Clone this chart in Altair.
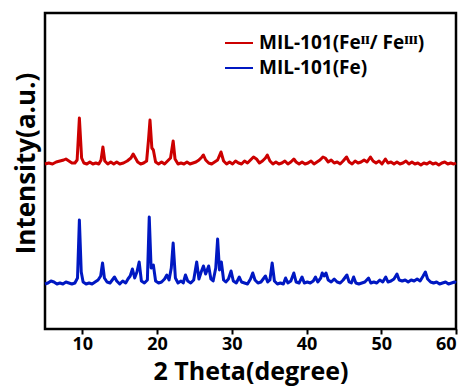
import altair as alt
import pandas as pd

# 2-theta positions and intensities (a.u., offset stacked)
red_theta = [5.0, 5.5, 6.0, 6.5, 7.0, 7.5, 7.8, 8.2, 8.6, 9.0, 9.3, 9.6, 9.9, 10.2, 10.6, 11.0, 11.4, 11.8, 12.2, 12.5,
             12.75, 13.0, 13.4, 13.8, 14.2, 14.6, 15.0, 15.5, 16.0, 16.5, 16.8, 17.1, 17.4, 17.8, 18.2, 18.6, 18.85, 19.05,
             19.3, 19.5, 19.8, 20.2, 20.6, 21.0, 21.4, 21.8, 22.15, 22.4, 22.8, 23.2, 23.6, 24.0, 24.4, 24.8, 25.2, 25.6,
             26.0, 26.2, 26.5, 26.9, 27.3, 27.7, 28.1, 28.55, 28.9, 29.3, 29.7, 30.1, 30.5, 30.9, 31.3, 31.7, 32.1, 32.5,
             32.9, 33.3, 33.7, 34.1, 34.5, 34.75, 35.1, 35.5, 35.9, 36.3, 36.7, 37.1, 37.5, 37.9, 38.3, 38.6, 39.0, 39.4,
             39.8, 40.2, 40.6, 41.0, 41.4, 41.8, 42.2, 42.5, 42.9, 43.3, 43.7, 44.1, 44.5, 44.9, 45.35, 45.7, 46.1, 46.5,
             46.9, 47.3, 47.7, 48.1, 48.55, 48.9, 49.3, 49.7, 50.1, 50.55, 50.9, 51.3, 51.7, 52.1, 52.5, 52.9, 53.3, 53.7,
             54.1, 54.5, 54.9, 55.3, 55.7, 56.1, 56.5, 56.9, 57.3, 57.7, 58.1, 58.5, 58.9, 59.3, 59.7, 60.0]
red_int = [165, 166, 165, 167, 168, 169, 170, 168, 166, 166, 169, 211, 171, 166, 165, 167, 165, 166, 165, 169,
           182, 168, 165, 167, 165, 167, 165, 166, 168, 171, 175, 171, 167, 165, 166, 168, 189, 209,
           181, 179, 167, 165, 167, 165, 168, 171, 188, 170, 165, 166, 165, 167, 165, 166, 167, 169,
           172, 174, 169, 166, 165, 167, 169, 177, 168, 165, 167, 165, 168, 166, 165, 168, 166, 169,
           172, 170, 166, 168, 171, 174, 168, 165, 167, 165, 166, 168, 165, 167, 170, 167, 165, 167,
           165, 166, 168, 165, 167, 169, 172, 171, 167, 169, 166, 167, 165, 168, 172, 167, 165, 168,
           166, 167, 169, 167, 172, 168, 166, 168, 165, 170, 166, 167, 165, 167, 165, 166, 168, 165,
           167, 165, 166, 164, 166, 165, 167, 165, 166, 164, 166, 167, 165, 166, 165, 166]

blue_theta = [5.0, 5.4, 5.8, 6.2, 6.6, 7.0, 7.4, 7.8, 8.2, 8.6, 9.0, 9.35, 9.6, 9.85, 10.1, 10.5, 10.9, 11.3, 11.7, 12.1,
              12.45, 12.7, 12.95, 13.3, 13.7, 14.0, 14.3, 14.6, 15.0, 15.4, 15.8, 16.1, 16.4, 16.7, 17.0, 17.3, 17.6,
              17.9, 18.3, 18.7, 18.95, 19.2, 19.5, 19.8, 20.2, 20.6, 21.0, 21.3, 21.6, 21.9, 22.15, 22.45, 22.8, 23.2,
              23.5, 23.8, 24.1, 24.5, 24.9, 25.3, 25.6, 25.9, 26.2, 26.5, 26.9, 27.2, 27.5, 27.85, 28.1, 28.35, 28.6,
              28.9, 29.2, 29.55, 29.9, 30.2, 30.6, 31.0, 31.3, 31.7, 32.1, 32.5, 32.8, 33.1, 33.5, 33.9, 34.2, 34.5,
              34.8, 35.1, 35.4, 35.7, 36.1, 36.5, 36.9, 37.2, 37.5, 37.9, 38.3, 38.6, 39.0, 39.4, 39.7, 40.1, 40.5,
              40.9, 41.2, 41.5, 41.9, 42.1, 42.35, 42.6, 42.9, 43.3, 43.7, 44.1, 44.5, 44.9, 45.4, 45.7, 46.0, 46.3,
              46.6, 47.0, 47.4, 47.8, 48.3, 48.6, 49.0, 49.4, 49.8, 50.2, 50.6, 50.9, 51.3, 51.7, 52.1, 52.4, 52.8,
              53.2, 53.6, 54.0, 54.4, 54.8, 55.2, 55.6, 55.9, 56.2, 56.6, 57.0, 57.4, 57.8, 58.2, 58.6, 59.0, 59.4,
              59.8, 60.0]
blue_int = [45, 46, 48, 47, 45, 46, 45, 47, 46, 45, 46, 51, 109, 57, 47, 45, 46, 45, 47, 49,
            53, 66, 51, 47, 46, 49, 52, 48, 45, 48, 46, 50, 53, 60, 51, 57, 67,
            48, 46, 49, 112, 61, 64, 48, 46, 47, 50, 54, 49, 61, 86, 51, 46, 48,
            46, 54, 48, 46, 49, 67, 50, 57, 63, 55, 63, 50, 48, 61, 90, 59, 67,
            49, 47, 50, 58, 48, 46, 52, 47, 46, 45, 50, 56, 49, 46, 47, 50, 53,
            47, 49, 66, 48, 45, 46, 45, 51, 46, 48, 56, 47, 46, 52, 46, 47, 46,
            48, 52, 47, 51, 56, 53, 56, 49, 47, 50, 47, 46, 49, 54, 47, 46, 52,
            46, 45, 46, 47, 51, 46, 47, 46, 49, 47, 52, 47, 48, 50, 55, 49, 48,
            49, 47, 49, 48, 50, 48, 53, 57, 50, 47, 46, 47, 45, 46, 47, 45, 46,
            47, 46]

red_name = "MIL-101(Feᴵᴵ/ Feᴵᴵᴵ)"
blue_name = "MIL-101(Fe)"
x_ticks = [10, 20, 30, 40, 50, 60]

df = pd.concat([
    pd.DataFrame({"theta": red_theta, "intensity": red_int, "sample": red_name, "order": 0}),
    pd.DataFrame({"theta": blue_theta, "intensity": blue_int, "sample": blue_name, "order": 1}),
])

FONT = "Open Sans"

chart = alt.Chart(df).mark_line(strokeWidth=3, strokeJoin="round").encode(
    x=alt.X("theta:Q",
            scale=alt.Scale(domain=[5, 60], nice=False, zero=False),
            axis=alt.Axis(values=x_ticks, title="2 Theta(degree)", grid=False, domain=False,
                          tickSize=5, tickWidth=2, tickColor="black",
                          labelFontSize=18, labelFontWeight="bold", labelColor="black", labelFont=FONT,
                          labelPadding=1, titleFontSize=25, titleFontWeight="bold", titleFont=FONT,
                          titleColor="black", titlePadding=6)),
    y=alt.Y("intensity:Q",
            scale=alt.Scale(domain=[0, 316], nice=False),
            axis=alt.Axis(title="Intensity(a.u.)", labels=False, ticks=False, grid=False, domain=False,
                          titleFontSize=26, titleFontWeight="bold", titleFont=FONT, titleColor="black",
                          titlePadding=6, titleY=150)),
    color=alt.Color("sample:N",
                    scale=alt.Scale(domain=[red_name, blue_name], range=["#cc0000", "#0018c2"]),
                    legend=alt.Legend(title=None, orient="none", legendX=179, legendY=15,
                                      symbolType="stroke", symbolSize=784, symbolStrokeWidth=2,
                                      labelFontSize=19, labelFontWeight="bold", labelFont=FONT,
                                      labelColor="black", rowPadding=-7, labelOffset=5, labelLimit=400)),
    detail="order:O",
).properties(
    width=411, height=316,
    padding={"left": 5, "top": 5, "right": 0, "bottom": 3},
).configure_view(stroke="black", strokeWidth=2.5)

chart.save("out.html", embed_options={"renderer": "svg", "actions": False})
